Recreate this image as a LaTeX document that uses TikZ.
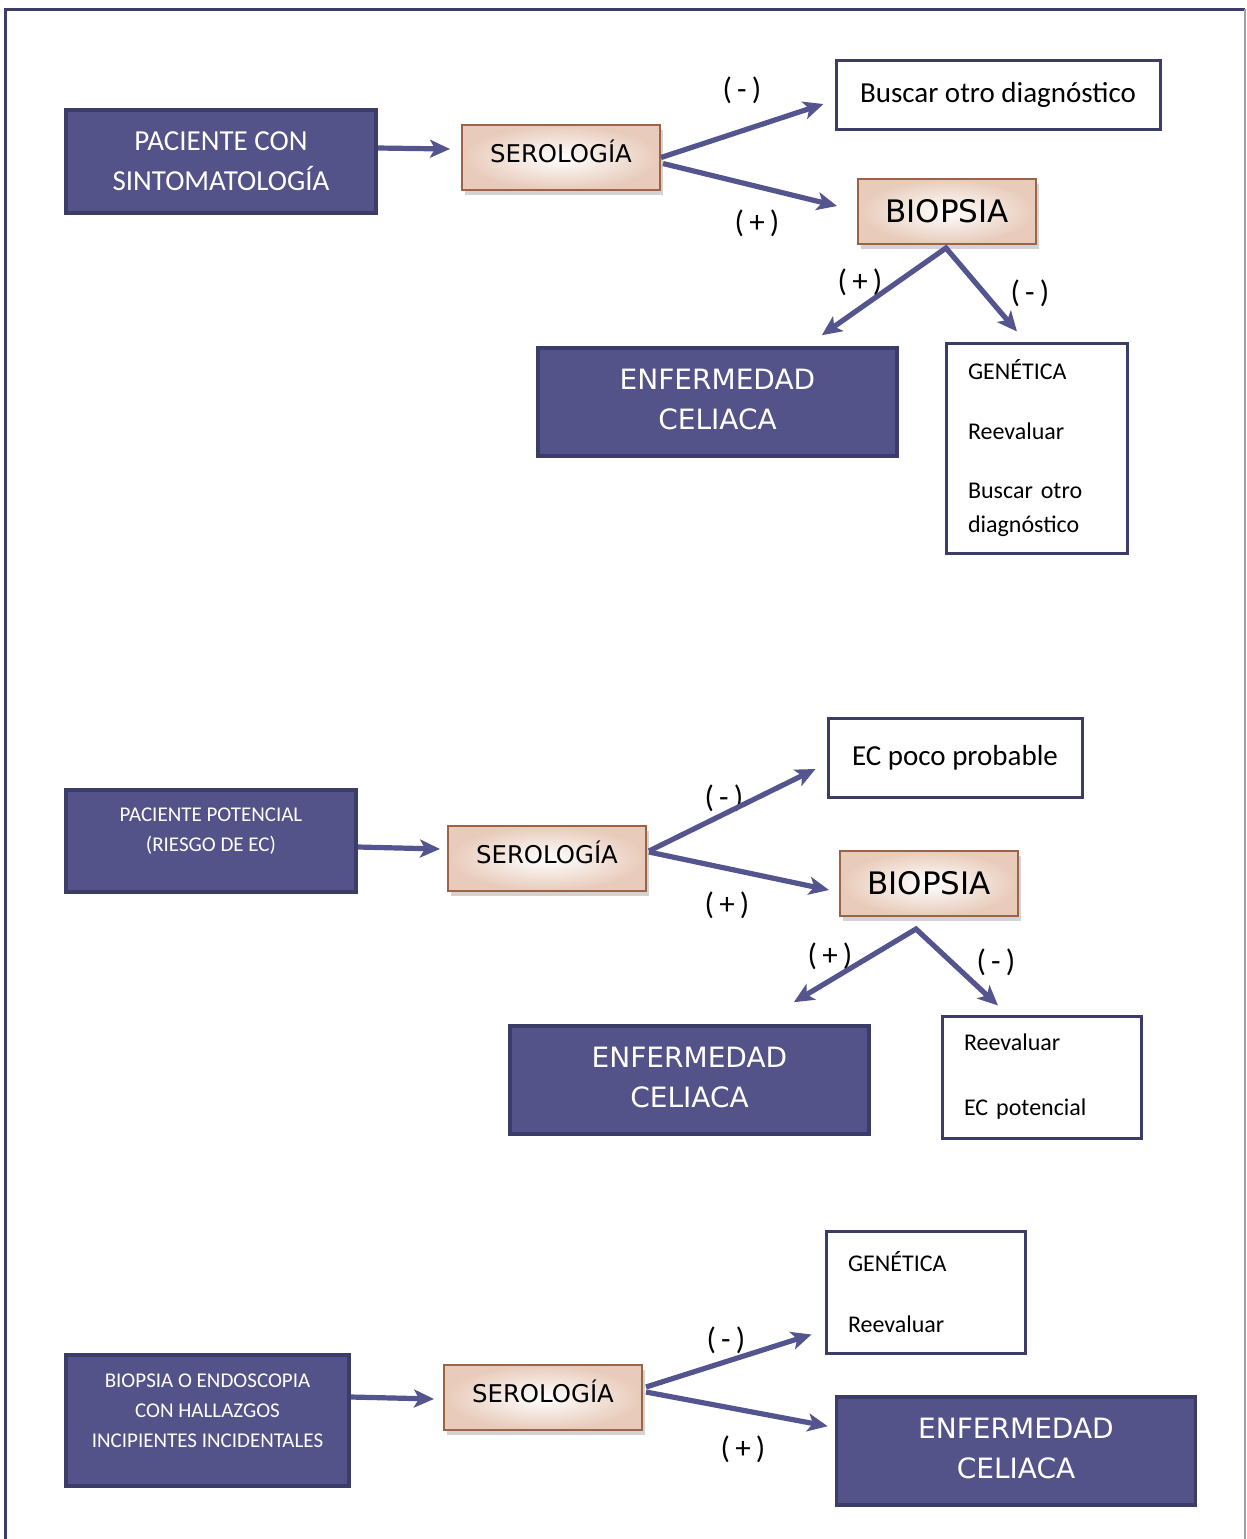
\documentclass[tikz,border=0pt]{standalone}
\usepackage{fontspec}
\setmainfont{Carlito}
\newfontfamily\verdfont{DejaVu Sans}
\usetikzlibrary{arrows.meta,shadows}
\definecolor{boxblue}{RGB}{83,83,138}
\definecolor{boxedge}{RGB}{60,60,105}
\definecolor{arrowblue}{RGB}{84,84,142}
\definecolor{serobrown}{RGB}{155,100,70}
\definecolor{seropeach}{RGB}{232,203,186}

\begin{document}
\begin{tikzpicture}
        [x=0.5pt, y=-0.5pt,
        darkbox/.style={draw=boxedge, fill=boxblue, line width=1.8pt, text=white, align=center, inner sep=0pt},
        ecbox/.style={darkbox, minimum width=179.5pt, minimum height=54pt, text depth=3pt, font=\verdfont\fontsize{14}{20}\selectfont},
        serobox/.style={draw=serobrown, line width=1pt, inner color=white, outer color=seropeach, inner sep=0pt,
          drop shadow={shadow xshift=1.5pt, shadow yshift=-2.5pt, opacity=0.35}, minimum height=32.5pt},
        serotext/.style={serobox, minimum width=99pt, text depth=6pt, font=\verdfont\fontsize{12.2}{15}\selectfont},
        whitebox/.style={draw=boxedge, fill=white, line width=1.5pt, inner sep=0pt},
        listbox/.style={whitebox, align=left, inner xsep=11pt, font=\fontsize{12}{17}\selectfont},
        arr/.style={draw=arrowblue, line width=2.6pt, -{Stealth[length=10pt, width=9pt, inset=2.5pt]}},
        sign/.style={font=\fontsize{15.5}{18}\selectfont}]
        \useasboundingbox (0,0) rectangle (1247,1539);
        \draw[boxedge, line width=1.5pt] (5,1539) -- (5,9) -- (1245,9);
        \draw[boxedge!50, line width=0.6pt] (1245,9) -- (1245,1539);

        % sintomatologia
        \node[darkbox, minimum width=155pt, minimum height=51.5pt, font=\fontsize{14.5}{20}\selectfont] (P1) at (221,161.5) {PACIENTE CON\\SINTOMATOLOGÍA};
        \node[serotext] (S1) at (561,157.5) {SEROLOGÍA};
        \node[whitebox, minimum width=162pt, minimum height=34.5pt, font=\fontsize{14.5}{18}\selectfont] (Bu1) at (998,94.5) {Buscar otro diagnóstico};
        \node[serobox, minimum width=89pt, font=\verdfont\fontsize{15.5}{18}\selectfont] (B1) at (947,211.5) {BIOPSIA};
        \node[ecbox] (EC1) at (717.5,402) {ENFERMEDAD\\CELIACA};
        \node[listbox, text width=68.5pt, minimum height=105pt] (G1) at (1036.5,448) {GENÉTICA\\[13pt]Reevaluar\\[12.5pt]Buscar otro\\diagnóstico};
        \coordinate (t1) at ([shift={(-1,3)}]B1.south);

        \node[sign] (m1) at (742,90) {(\,-\,)};
        \node[sign] (p1) at (757,223) {(\,+\,)};
        \node[sign] (p2) at (860,282) {(\,+\,)};
        \node[sign] (m2) at (1030,293) {(\,-\,)};

        \draw[arr] ([shift={(0,-13.5)}]P1.east) -- ([shift={(-11,-8.5)}]S1.west);
        \draw[arr] (S1.east) -- ([shift={(-11,9.5)}]Bu1.west);
        \draw[arr] ([shift={(2,6)}]S1.east) -- ([shift={(-20,-5.5)}]B1.west);
        \draw[arrowblue, line width=2.6pt, {Stealth[length=10pt, width=9pt, inset=2.5pt]}-{Stealth[length=10pt, width=9pt, inset=2.5pt]}]
          ([shift={(-77,-11)}]EC1.north east) -- (t1) -- ([shift={(-19.5,-10)}]G1.north);

        % potencial
        \node[darkbox, minimum width=145pt, minimum height=51pt, font=\fontsize{10.5}{15}\selectfont, text depth=11pt] (P2) at (211,841) {PACIENTE POTENCIAL\\(RIESGO DE EC)};
        \node[serotext] (S2) at (547,858.5) {SEROLOGÍA};
        \node[whitebox, minimum width=127pt, minimum height=39.5pt, font=\fontsize{14.5}{18}\selectfont] (EP) at (955,757.5) {EC poco probable};
        \node[serobox, minimum width=89pt, font=\verdfont\fontsize{15.5}{18}\selectfont] (B2) at (929,883.5) {BIOPSIA};
        \node[ecbox] (EC2) at (689.5,1080) {ENFERMEDAD\\CELIACA};
        \node[listbox, text width=77.5pt, minimum height=61pt] (R2) at (1041.5,1077) {Reevaluar\\[15.5pt]EC potencial};
        \coordinate (t2) at ([shift={(-13,12)}]B2.south);

        \node[sign] (m3) at (724,798) {(\,-\,)};
        \node[sign] (p3) at (727,905) {(\,+\,)};
        \node[sign] (p4) at (830,956) {(\,+\,)};
        \node[sign] (m4) at (996,962) {(\,-\,)};

        \draw[arr] ([shift={(0,6)}]P2.east) -- ([shift={(-7,-9.5)}]S2.west);
        \draw[arr] ([shift={(2,-7.5)}]S2.east) -- ([shift={(-11,11.5)}]EP.west);
        \draw[arr] ([shift={(2,-6.5)}]S2.east) -- ([shift={(-10,6.5)}]B2.west);
        \draw[arrowblue, line width=2.6pt, {Stealth[length=10pt, width=9pt, inset=2.5pt]}-{Stealth[length=10pt, width=9pt, inset=2.5pt]}]
          ([shift={(-77,-22)}]EC2.north east) -- (t2) -- ([shift={(-43.5,-9)}]R2.north);

        % hallazgos incidentales
        \node[darkbox, minimum width=141.5pt, minimum height=65.5pt, font=\fontsize{10.5}{15}\selectfont, text depth=10pt] (P3) at (207.5,1420.5) {BIOPSIA O ENDOSCOPIA\\CON HALLAZGOS\\INCIPIENTES INCIDENTALES};
        \node[serotext] (S3) at (543,1397.5) {SEROLOGÍA};
        \node[listbox, text width=77.5pt, minimum height=61pt] (G3) at (925.5,1292) {GENÉTICA\\[13.5pt]Reevaluar};
        \node[ecbox] (EC3) at (1016,1451) {ENFERMEDAD\\CELIACA};

        \node[sign] (m5) at (726,1340) {(\,-\,)};
        \node[sign] (p5) at (743,1449) {(\,+\,)};

        \draw[arr] ([shift={(0,-23.5)}]P3.east) -- ([shift={(-9,1.5)}]S3.west);
        \draw[arr] ([shift={(3,-10.5)}]S3.east) -- ([shift={(-13,-20)}]G3.south west);
        \draw[arr] ([shift={(3,-5.5)}]S3.east) -- ([shift={(-7,31)}]EC3.north west);
    \end{tikzpicture}
\end{document}
